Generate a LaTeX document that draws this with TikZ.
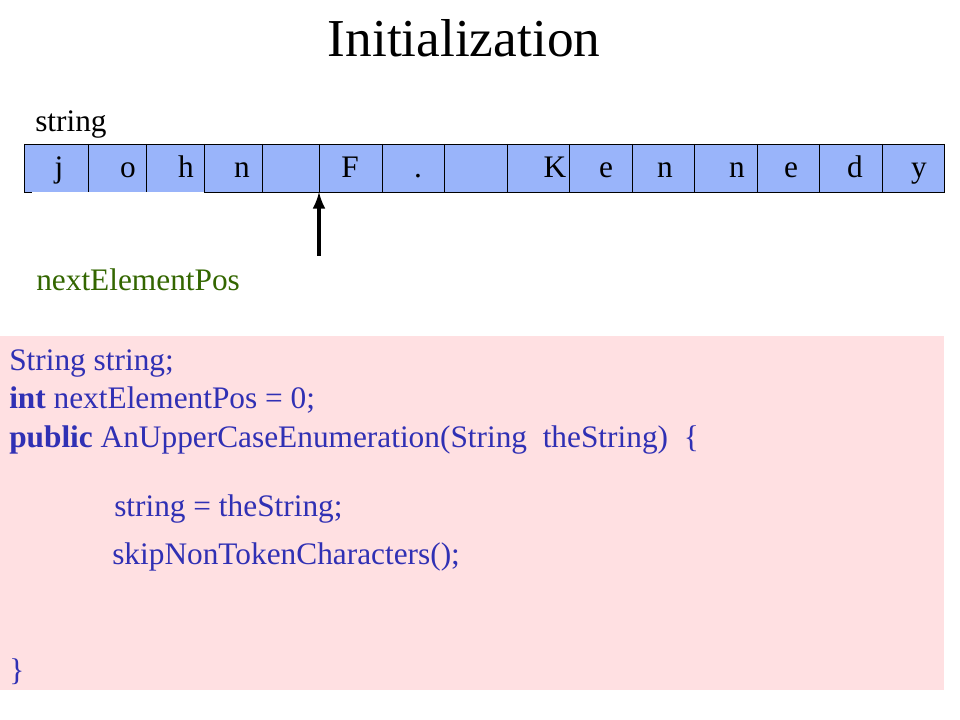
\documentclass[tikz,border=0pt]{standalone}
\usepackage{fontspec}
\setmainfont{Liberation Serif}
\usetikzlibrary{positioning,arrows}
\definecolor{cellblue}{RGB}{153,180,250}
\definecolor{codepink}{RGB}{255,224,226}
\definecolor{codeblue}{RGB}{48,48,180}
\definecolor{labelgreen}{RGB}{51,102,0}
\tikzset{%
    cell/.style={%
        rectangle, fill=cellblue, minimum height=35.6pt, inner sep=0pt, anchor=north west
    },
    letter/.style={%
        anchor=base, inner sep=0pt, font=\fontsize{23.5}{28}\selectfont
    },
    txt/.style={%
        anchor=base west, inner sep=0pt, font=\fontsize{23.5}{28}\selectfont
    },
    code/.style={%
        txt, text=codeblue
    },
    codebox/.style={%
        rectangle, fill=codepink, inner sep=0pt, anchor=north west
    },
    pointer/.style={%
        -latex, line width=3.2pt
    },
}
\begin{document}
\begin{tikzpicture}[x=0.75pt,y=-0.75pt]

    \useasboundingbox (0,0) rectangle (960,720);

    \node[anchor=base, inner sep=0pt, font=\fontsize{40}{48}\selectfont] (title) at (464,57) {Initialization};

    % the characters of the string
    \foreach \l/\r/\i in {24/88/0, 88/146/1, 146/204/2, 204/262/3, 262/319/4, 319/382/5, 382/444/6, 444/507/7,
                          507/569/8, 569/632/9, 632/694/10, 694/757/11, 757/819/12, 819/882/13, 882/944/14}
      \node[cell, minimum width={(\r-\l)*0.75pt}] (c\i) at (\l,144) {};

    \draw (c0.north west) -- (c14.north east);
    \draw (c0.south west) -- ([xshift=6pt]c0.south west);
    \draw (c3.south west) -- (c14.south east);
    \draw (c0.north west) -- (c0.south west);
    \foreach \i in {0,...,14}
      \draw (c\i.north east) -- (c\i.south east);

    \foreach \x/\ch/\i in {59/j/0, 128/o/1, 186/h/2, 242/n/3, 350/F/5, 418/./6,
                           555/K/8, 606/e/9, 665/n/10, 737/n/11, 791/e/12, 855/d/13, 919/y/14}
      \node[letter] (l\i) at (\x,178) {\ch};

    \node[txt] (strlabel) at (35,132) {string};

    \node[txt, text=labelgreen] (poslabel) at (36,291) {nextElementPos};
    \coordinate (ptr) at (319,256);
    \draw[pointer] (ptr) -- (c5.south west);

    % code
    \node[codebox, minimum width=708pt, minimum height=265.5pt] (code) at (0,336) {};
    \node[code] (line1) at (9,370) {String string;};
    \node[code] (line2) at (9,408) {\textbf{int} nextElementPos = 0;};
    \node[code] (line3) at (9,447) {\textbf{public} AnUpperCaseEnumeration(String\ \ theString)\ \ \{};
    \node[code] (line4) at (114,516) {string = theString;};
    \node[code] (line5) at (112,564) {skipNonTokenCharacters();};
    \node[code] (line6) at (9,680) {\}};

  \end{tikzpicture}
\end{document}
